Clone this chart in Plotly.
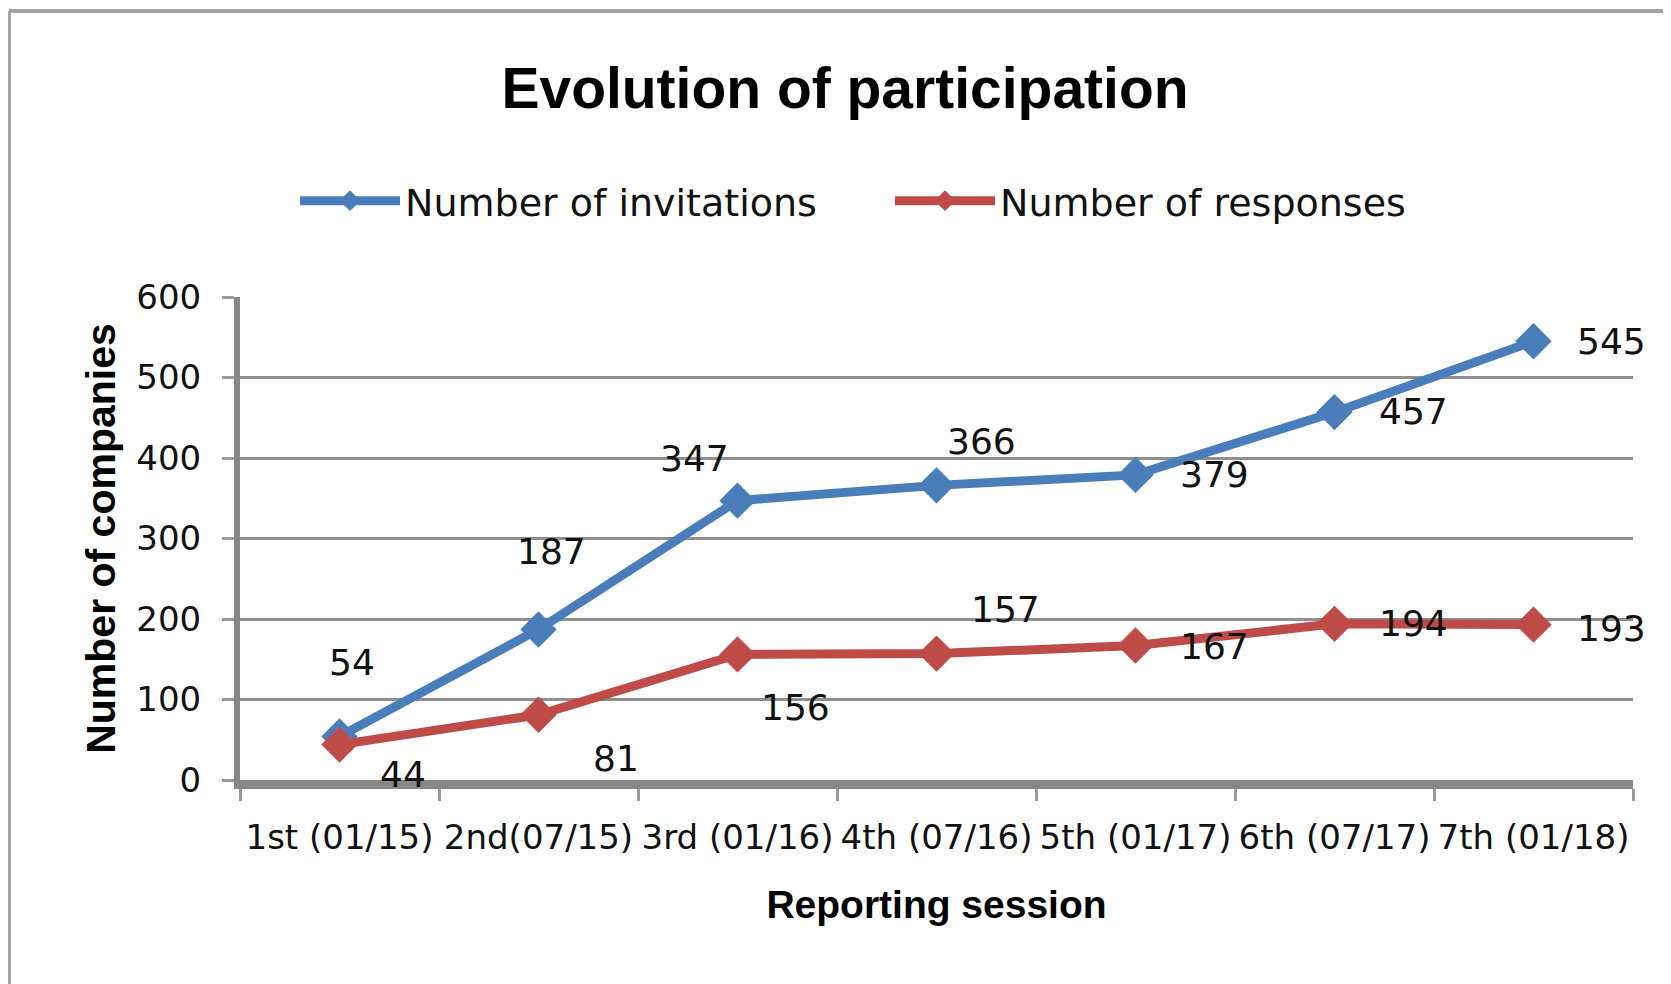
import plotly.graph_objects as go

# ---- data ----
sessions = ["1st (01/15)", "2nd(07/15)", "3rd (01/16)", "4th (07/16)",
            "5th (01/17)", "6th (07/17)", "7th (01/18)"]
invitations = [54, 187, 347, 366, 379, 457, 545]
responses = [44, 81, 156, 157, 167, 194, 193]
y_ticks = [0, 100, 200, 300, 400, 500, 600]

# ---- style ----
PAGE_W, PAGE_H = 1671, 984
OFF = 8                      # default page body margin
W, H = PAGE_W - OFF, PAGE_H - OFF
# plot area in page pixels: x 240..1633, y 297..780
ML, MR, MT, MB = 240 - OFF, PAGE_W - 1633, 297 - OFF, PAGE_H - 780
BLUE = "#4a7ebb"
RED = "#be4b48"
GRID = "#8e8e8e"
AXIS = "#878787"
TXT = "#111111"
FONT = "DejaVu Sans"
BOLD = "Liberation Sans"

# label offsets in px (dx right, dy up)
inv_label_offsets = [(12, 74), (13, 78), (-43, 42), (45, 44), (79, 0), (79, 1), (78, 0)]
resp_label_offsets = [(63, -30), (77, -44), (58, -53), (69, 44), (79, -1), (79, 0), (78, -4)]

fig = go.Figure()
fig.add_trace(go.Scatter(
    x=sessions, y=invitations, name="Number of invitations",
    mode="lines+markers",
    line=dict(color=BLUE, width=9),
    marker=dict(symbol="diamond", size=28, color=BLUE),
))
fig.add_trace(go.Scatter(
    x=sessions, y=responses, name="Number of responses",
    mode="lines+markers",
    line=dict(color=RED, width=9),
    marker=dict(symbol="diamond", size=28, color=RED),
))

annotations = []
for series, offs in ((invitations, inv_label_offsets), (responses, resp_label_offsets)):
    for cat, val, (dx, dy) in zip(sessions, series, offs):
        annotations.append(dict(
            x=cat, y=val, xref="x", yref="y", text=str(val), showarrow=False,
            xshift=dx, yshift=dy, font=dict(family=FONT, size=36, color=TXT),
        ))

plot_w = W - ML - MR
plot_h = H - MT - MB
def px_x(p):  # page pixel -> paper x
    return (p - OFF - ML) / plot_w
def px_y(p):  # page pixel -> paper y
    return (H - MB - (p - OFF)) / plot_h

shapes = [
    dict(type="line", xref="paper", yref="paper", x0=px_x(9), x1=px_x(PAGE_W + 20),
         y0=px_y(11), y1=px_y(11), line=dict(color="#a3a3a3", width=4), layer="above"),
    dict(type="line", xref="paper", yref="paper", x0=px_x(9), x1=px_x(9),
         y0=px_y(11), y1=px_y(PAGE_H + 20), line=dict(color="#a3a3a3", width=4), layer="above"),
]

fig.update_layout(
    width=W, height=H,
    margin=dict(l=ML, r=MR, t=MT, b=MB, pad=0, autoexpand=False),
    paper_bgcolor="white", plot_bgcolor="white",
    title=dict(text="Evolution of participation", x=(845 - OFF) / W, xref="container",
               xanchor="center", y=1 - (88 - OFF) / H, yref="container", yanchor="middle",
               font=dict(family=BOLD, size=57, color="#000000", weight="bold")),
    showlegend=True,
    legend=dict(orientation="h", x=px_x(295), xanchor="left", y=px_y(201), yanchor="middle",
                font=dict(family=FONT, size=38, color=TXT), itemwidth=100,
                entrywidth=480, entrywidthmode="pixels", bgcolor="rgba(0,0,0,0)",
                itemsizing="trace"),
    annotations=annotations,
    shapes=shapes,
)

fig.update_xaxes(
    type="category", categoryorder="array", categoryarray=sessions,
    range=[-0.5, len(sessions) - 0.5], automargin=False, tickangle=0,
    tickson="boundaries", ticks="outside", ticklen=12, tickwidth=3, tickcolor="#9a9a9a",
    showline=True, linecolor=AXIS, linewidth=9, showgrid=False, zeroline=False,
    tickfont=dict(family=FONT, size=34, color=TXT), ticklabelstandoff=19,
    title=dict(text="Reporting session", standoff=38,
               font=dict(family=BOLD, size=39, color="#000000", weight="bold")),
)
fig.update_yaxes(
    range=[0, 600], tickvals=y_ticks, ticks="outside", ticklen=12, tickwidth=3,
    automargin=False,
    tickcolor="#9a9a9a", showline=True, linecolor=AXIS, linewidth=6,
    showgrid=True, gridcolor=GRID, gridwidth=3, zeroline=False,
    tickfont=dict(family=FONT, size=34, color=TXT), ticklabelstandoff=14,
    title=dict(text="Number of companies", standoff=10,
               font=dict(family=BOLD, size=41, color="#000000", weight="bold")),
)

fig.write_html("out.html")
